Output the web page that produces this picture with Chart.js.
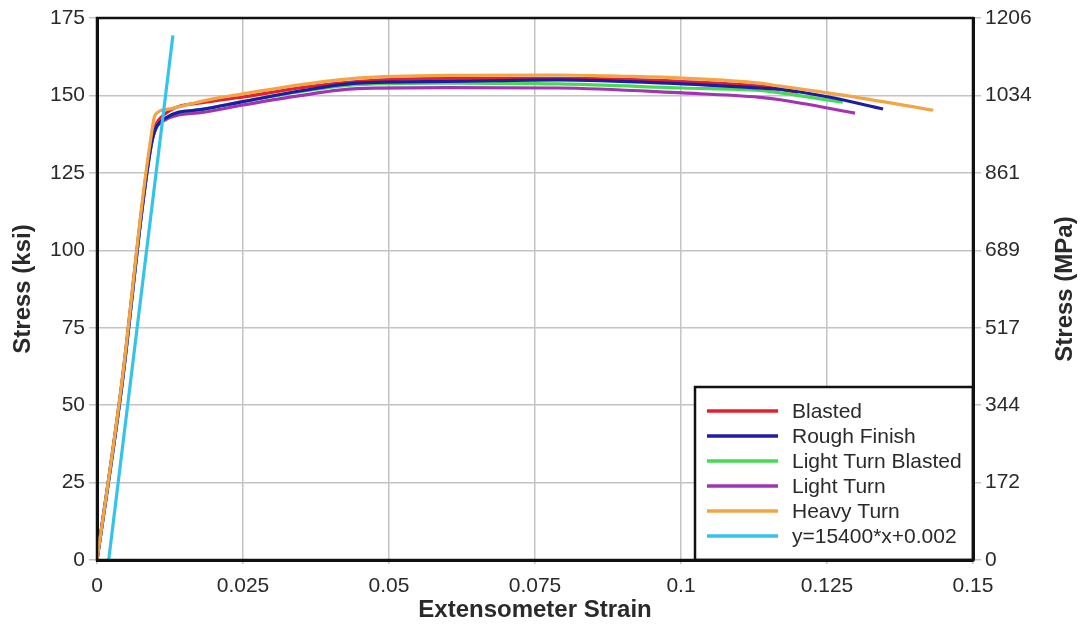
<!DOCTYPE html>
<html>
<head>
<meta charset="utf-8">
<title>Stress vs Extensometer Strain</title>
<script src="https://cdn.jsdelivr.net/npm/chart.js@4.4.1/dist/chart.umd.min.js"></script>
<style>
  body { margin: 0; background: #fff; }
  #wrap { width: 1081px; height: 626px; }
</style>
</head>
<body>
<div id="wrap"><canvas id="stressChart" width="1081" height="626"></canvas></div>
<script>
// strain (in/in) and stress (ksi)
const blastedStrain = [0, 0.0043, 0.0079, 0.0095, 0.011, 0.0188, 0.025, 0.035, 0.0445, 0.06, 0.079, 0.1003, 0.1135, 0.12];
const blastedStress = [0, 58, 117, 137, 143, 147.9, 149.5, 152.5, 154.5, 155.5, 155.5, 154.5, 153, 151];

const roughStrain = [0, 0.0043, 0.0079, 0.0095, 0.0116, 0.018, 0.025, 0.035, 0.0445, 0.06, 0.079, 0.1003, 0.1135, 0.117, 0.1255, 0.1346];
const roughStress = [0, 57, 116, 136, 142.5, 145.5, 148, 151.5, 154, 154.5, 155, 153.7, 152.4, 152, 149.4, 145.6];

const lightBlastedStrain = [0, 0.0043, 0.0079, 0.0095, 0.0116, 0.018, 0.025, 0.035, 0.0445, 0.06, 0.079, 0.1003, 0.1135, 0.117, 0.1277];
const lightBlastedStress = [0, 57, 116, 136, 142.5, 145.5, 148, 151.3, 153.5, 154, 153.7, 152.4, 151.6, 150.8, 147.8];

const lightStrain = [0, 0.0043, 0.0079, 0.0095, 0.0116, 0.018, 0.025, 0.035, 0.0445, 0.06, 0.079, 0.1003, 0.1135, 0.117, 0.1298];
const lightStress = [0, 57, 116, 136, 142, 144.5, 146.9, 150, 152.2, 152.5, 152.4, 150.8, 149.4, 148.6, 144.3];

const heavyStrain = [0, 0.0043, 0.0079, 0.0092, 0.0099, 0.012, 0.0188, 0.025, 0.035, 0.0445, 0.06, 0.079, 0.09, 0.1003, 0.1135, 0.117, 0.1277, 0.1432];
const heavyStress = [0, 58, 118, 136, 143.5, 145.5, 148.5, 150.5, 153.5, 155.6, 156.5, 156.6, 156.2, 155.6, 154, 153, 150.1, 145.2];

const offsetStrain = [0.002, 0.013];
const offsetStress = [0, 169.4];

const seriesNames = ['Blasted', 'Rough Finish', 'Light Turn Blasted', 'Light Turn', 'Heavy Turn', 'y=15400*x+0.002'];
const seriesColors = ['#e3202c', '#1c1ca6', '#45dc52', '#a233b4', '#f2a544', '#34c3ea'];
// lower number is drawn on top
const drawOrder = [5, 2, 3, 4, 1, 0];

const xTicks = [0, 0.025, 0.05, 0.075, 0.1, 0.125, 0.15];
const xTickLabels = ['0', '0.025', '0.05', '0.075', '0.1', '0.125', '0.15'];
const ksiTicks = [0, 25, 50, 75, 100, 125, 150, 175];
const mpaTickLabels = ['0', '172', '344', '517', '689', '861', '1034', '1206'];

const FONT = '"Liberation Sans", Arial, Helvetica, sans-serif';
const TEXT = '#2a2a2a';
const GRID = '#c4c4c4';

function toPoints(xs, ys) {
    return xs.map((x, i) => ({ x: x, y: ys[i] }));
}

const allStrain = [blastedStrain, roughStrain, lightBlastedStrain, lightStrain, heavyStrain, offsetStrain];
const allStress = [blastedStress, roughStress, lightBlastedStress, lightStress, heavyStress, offsetStress];

const datasets = seriesNames.map((name, i) => ({
    label: name,
    data: toPoints(allStrain[i], allStress[i]),
    borderColor: seriesColors[i],
    backgroundColor: seriesColors[i],
    borderWidth: 3.2,
    pointRadius: 0,
    fill: false,
    cubicInterpolationMode: 'monotone',
    order: drawOrder[i],
    yAxisID: 'y'
}));

// frame, right-hand title and the boxed legend in the lower right corner
const framePlugin = {
    id: 'frame',
    afterDraw(chart) {
        const ctx = chart.ctx;
        const a = chart.chartArea;

        // legend box
        const boxW = 278, boxH = 173;
        const bx = a.right - boxW, by = a.bottom - boxH;
        ctx.save();
        ctx.fillStyle = '#fff';
        ctx.fillRect(bx, by, boxW, boxH);
        ctx.strokeStyle = '#111';
        ctx.lineWidth = 2.5;
        ctx.strokeRect(bx, by, boxW, boxH);
        ctx.font = '21px ' + FONT;
        ctx.textBaseline = 'middle';
        ctx.textAlign = 'left';
        seriesNames.forEach((name, i) => {
            const ly = by + 24 + i * 25;
            ctx.strokeStyle = seriesColors[i];
            ctx.lineWidth = 3.5;
            ctx.beginPath();
            ctx.moveTo(bx + 12, ly);
            ctx.lineTo(bx + 83, ly);
            ctx.stroke();
            ctx.fillStyle = TEXT;
            ctx.fillText(name, bx + 97, ly + 1);
        });

        // plot frame
        ctx.strokeStyle = '#111';
        ctx.lineWidth = 2.5;
        ctx.strokeRect(a.left, a.top, a.right - a.left, a.bottom - a.top);

        // right axis title, reading bottom to top like the left one
        ctx.translate(chart.width - 16, (a.top + a.bottom) / 2);
        ctx.rotate(-Math.PI / 2);
        ctx.font = 'bold 24px ' + FONT;
        ctx.fillStyle = TEXT;
        ctx.textAlign = 'center';
        ctx.textBaseline = 'middle';
        ctx.fillText('Stress (MPa)', 0, 0);
        ctx.restore();
    }
};

new Chart(document.getElementById('stressChart'), {
    type: 'line',
    data: { datasets: datasets },
    options: {
        responsive: false,
        animation: false,
        layout: { padding: { top: 18, left: 0, right: 0, bottom: 0 } },
        plugins: {
            legend: { display: false },
            tooltip: { enabled: false }
        },
        scales: {
            x: {
                type: 'linear',
                min: 0,
                max: 0.15,
                afterBuildTicks: (scale) => { scale.ticks = xTicks.map(v => ({ value: v })); },
                afterFit: (scale) => { scale.height = 66; },
                ticks: {
                    callback: (value, index) => xTickLabels[index],
                    font: { family: FONT, size: 21 },
                    color: TEXT,
                    padding: 10,
                    maxRotation: 0
                },
                grid: { color: GRID, lineWidth: 1.5, tickLength: 4 },
                border: { color: '#111', width: 3 },
                title: {
                    display: true,
                    text: 'Extensometer Strain',
                    font: { family: FONT, size: 24, weight: 'bold' },
                    color: TEXT,
                    padding: { top: 0, bottom: 1 }
                }
            },
            y: {
                position: 'left',
                min: 0,
                max: 175,
                afterBuildTicks: (scale) => { scale.ticks = ksiTicks.map(v => ({ value: v })); },
                afterFit: (scale) => { scale.width = 97; },
                ticks: {
                    font: { family: FONT, size: 21 },
                    color: TEXT,
                    padding: 4
                },
                grid: { color: GRID, lineWidth: 1.5, tickLength: 8 },
                border: { color: '#111', width: 3 },
                title: {
                    display: true,
                    text: 'Stress (ksi)',
                    font: { family: FONT, size: 24, weight: 'bold' },
                    color: TEXT,
                    padding: { top: 9, bottom: 0 }
                }
            },
            y2: {
                position: 'right',
                min: 0,
                max: 175,
                afterBuildTicks: (scale) => { scale.ticks = ksiTicks.map(v => ({ value: v })); },
                afterFit: (scale) => { scale.width = 108; },
                ticks: {
                    callback: (value, index) => mpaTickLabels[index],
                    font: { family: FONT, size: 21 },
                    color: TEXT,
                    padding: 4
                },
                grid: { drawOnChartArea: false, color: GRID, lineWidth: 1.5, tickLength: 8 },
                border: { color: '#111', width: 3 }
            }
        }
    },
    plugins: [framePlugin]
});
</script>
</body>
</html>
